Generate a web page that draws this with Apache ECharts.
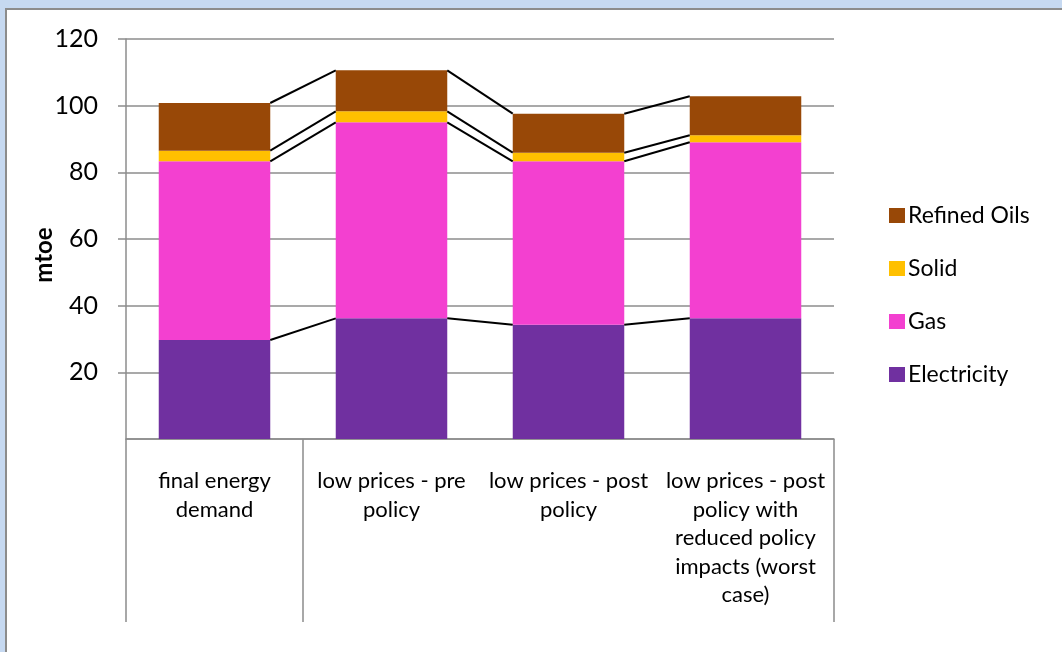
<!DOCTYPE html>
<html>
<head>
<meta charset="utf-8">
<script src="https://cdn.jsdelivr.net/npm/echarts@6/dist/echarts.min.js"></script>
<style>
html,body{margin:0;padding:0;background:#c6d9f1;}
#chart{width:1062px;height:652px;}
</style>
</head>
<body>
<div id="chart"></div>
<script>
var categories = [
  'final energy\ndemand',
  'low prices - pre\npolicy',
  'low prices - post\npolicy',
  'low prices - post\npolicy with\nreduced policy\nimpacts (worst\ncase)'
];
var electricity = [29.7, 36.2, 34.3, 36.2];
var gas         = [53.6, 58.8, 49.0, 52.8];
var solid       = [3.2, 3.3, 2.6, 2.1];
var refinedOils = [14.3, 12.3, 11.7, 11.7];
var yTicks = [0, 20, 40, 60, 80, 100, 120];
var yAxisTitle = 'mtoe';
var legendNames = ['Refined Oils', 'Solid', 'Gas', 'Electricity'];

var colors = {
  'Refined Oils': '#984807',
  'Solid': '#ffc000',
  'Gas': '#f340d0',
  'Electricity': '#7030a0'
};

// cumulative stack tops, per level
var layers = [electricity, gas, solid, refinedOils];
var levels = [];
var running = categories.map(function(){ return 0; });
layers.forEach(function(arr){
  running = running.map(function(v, i){ return v + arr[i]; });
  levels.push(running.slice());
});
var segs = [];
levels.forEach(function(lv){
  for (var i = 0; i < lv.length - 1; i++) {
    segs.push([i, lv[i], lv[i + 1]]);
  }
});

var BAR_RATIO = 0.63;
var font = 'Lato';

var chart = echarts.init(document.getElementById('chart'), null, {renderer: 'canvas'});
chart.setOption({
  backgroundColor: '#c6d9f1',
  animation: false,
  graphic: [
    {type: 'rect', z: -10, shape: {x: 6, y: 9, width: 1070, height: 660},
     style: {fill: '#ffffff', stroke: '#8c8c8c', lineWidth: 2}}
  ],
  grid: {left: 126, right: 228, top: 39, bottom: 213, containLabel: false},
  legend: {
    orient: 'vertical',
    left: 884,
    top: 199,
    data: legendNames,
    itemWidth: 16,
    itemHeight: 15,
    itemGap: 30,
    icon: 'rect',
    textStyle: {fontFamily: font, fontSize: 23, color: '#000000', padding: [0, 0, 0, -2]},
    selectedMode: false
  },
  xAxis: {
    type: 'category',
    data: categories,
    axisLine: {show: true, lineStyle: {color: '#8c8c8c', width: 1.5}},
    axisTick: {show: true, length: 183, interval: function(index){ return index <= 1; },
               lineStyle: {color: '#8c8c8c', width: 1.5}},
    axisLabel: {interval: 0, margin: 28, fontFamily: font, fontSize: 22, color: '#000000',
                lineHeight: 28.5, align: 'center', verticalAlign: 'top'},
    splitLine: {show: false}
  },
  yAxis: {
    type: 'value',
    name: yAxisTitle,
    nameLocation: 'middle',
    nameGap: 70,
    nameMoveOverlap: false,
    nameTextStyle: {fontFamily: font, fontSize: 24, fontWeight: 'bold', color: '#000000',
                    padding: [0, 32, 0, 0]},
    min: yTicks[0],
    max: yTicks[yTicks.length - 1],
    interval: yTicks[1] - yTicks[0],
    axisLine: {show: true, lineStyle: {color: '#8c8c8c', width: 1.5}},
    axisTick: {show: true, length: 8, lineStyle: {color: '#8c8c8c', width: 1.5}},
    axisLabel: {showMinLabel: false, margin: 28, fontFamily: font, fontSize: 25, color: '#000000'},
    splitLine: {show: true, lineStyle: {color: '#8c8c8c', width: 1.5}}
  },
  series: [
    {name: 'Electricity', type: 'bar', stack: 's', data: electricity, barWidth: '63%',
     itemStyle: {color: colors['Electricity']}},
    {name: 'Gas', type: 'bar', stack: 's', data: gas, barWidth: '63%',
     itemStyle: {color: colors['Gas']}},
    {name: 'Solid', type: 'bar', stack: 's', data: solid, barWidth: '63%',
     itemStyle: {color: colors['Solid']}},
    {name: 'Refined Oils', type: 'bar', stack: 's', data: refinedOils, barWidth: '63%',
     itemStyle: {color: colors['Refined Oils']}},
    {
      name: 'connectors', type: 'custom', z: 5, silent: true,
      data: segs,
      encode: {x: 0, y: [1, 2]},
      renderItem: function(params, api){
        var i = api.value(0);
        var p0 = api.coord([i, api.value(1)]);
        var p1 = api.coord([i + 1, api.value(2)]);
        var half = api.size([1, 0])[0] * BAR_RATIO / 2;
        return {
          type: 'line',
          shape: {x1: p0[0] + half, y1: p0[1], x2: p1[0] - half, y2: p1[1]},
          style: {stroke: '#000000', lineWidth: 2}
        };
      }
    }
  ]
});
</script>
</body>
</html>
